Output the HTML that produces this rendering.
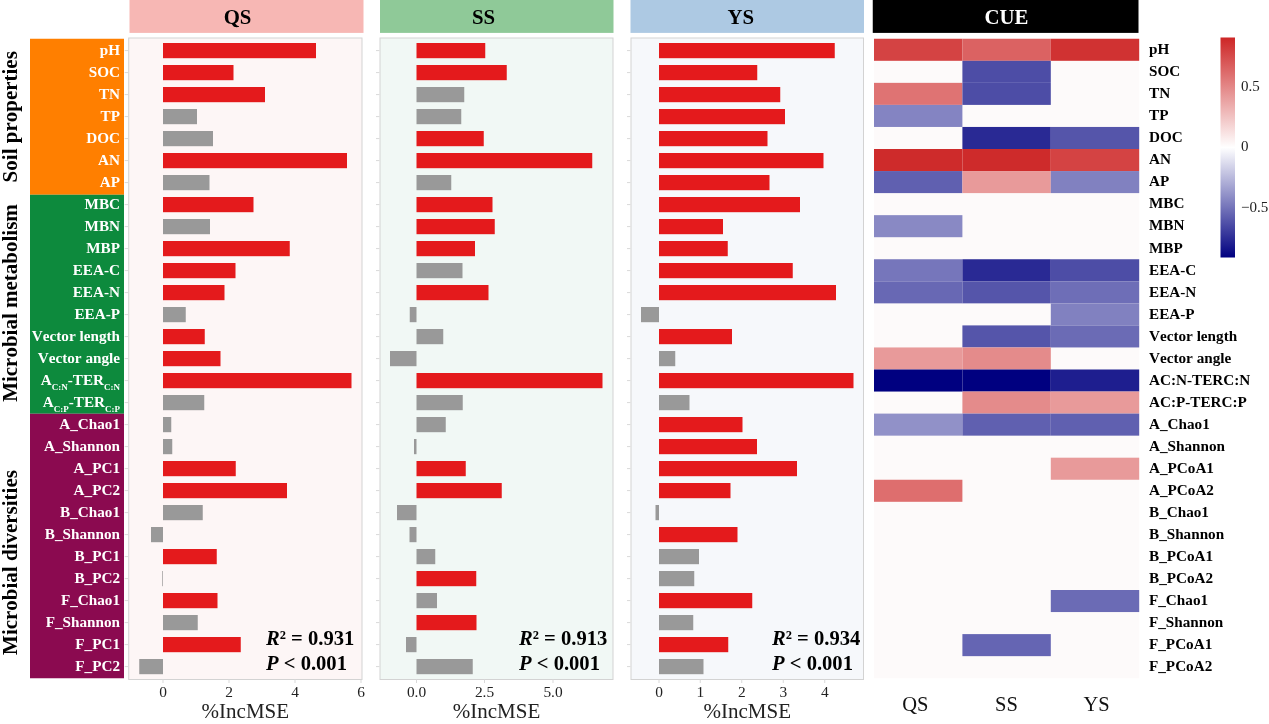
<!DOCTYPE html>
<html lang="en"><head><meta charset="utf-8"><title>Figure</title>
<style>html,body{margin:0;padding:0;background:#fff}svg{display:block}</style></head>
<body>
<svg width="1269" height="724" viewBox="0 0 1269 724" font-family='"Liberation Serif",serif' style="font-kerning:none">
<rect width="1269" height="724" fill="#fff"/>
<rect x="129.5" y="0" width="234" height="32.9" fill="#f7b7b4"/>
<text x="237.5" y="24.2" font-size="20.8" font-weight="bold" text-anchor="middle" fill="#000">QS</text>
<rect x="380" y="0" width="233.5" height="32.9" fill="#8fc998"/>
<text x="483.5" y="24.2" font-size="20.8" font-weight="bold" text-anchor="middle" fill="#000">SS</text>
<rect x="630.5" y="0" width="233.5" height="32.9" fill="#adc9e3"/>
<text x="740.75" y="24.2" font-size="20.8" font-weight="bold" text-anchor="middle" fill="#000">YS</text>
<rect x="872.75" y="0" width="265.75" height="32.9" fill="#000"/>
<text x="1006.5" y="24.2" font-size="20.8" font-weight="bold" text-anchor="middle" fill="#fff">CUE</text>
<rect x="30" y="38.75" width="94" height="156" fill="#ff7f00"/>
<rect x="30" y="194.75" width="94" height="219" fill="#0d8a3d"/>
<rect x="30" y="413.75" width="94" height="264.5" fill="#8b0a50"/>
<text transform="translate(17,116.75) rotate(-90)" font-size="21" font-weight="bold" text-anchor="middle">Soil properties</text>
<text transform="translate(17,303) rotate(-90)" font-size="21" font-weight="bold" text-anchor="middle">Microbial metabolism</text>
<text transform="translate(17,562.5) rotate(-90)" font-size="21" font-weight="bold" text-anchor="middle">Microbial diversities</text>
<text x="120" y="55.4" font-size="15.2" font-weight="bold" text-anchor="end" fill="#fff" style="font-kerning:none">pH</text>
<text x="120" y="77.4" font-size="15.2" font-weight="bold" text-anchor="end" fill="#fff" style="font-kerning:none">SOC</text>
<text x="120" y="99.4" font-size="15.2" font-weight="bold" text-anchor="end" fill="#fff" style="font-kerning:none">TN</text>
<text x="120" y="121.4" font-size="15.2" font-weight="bold" text-anchor="end" fill="#fff" style="font-kerning:none">TP</text>
<text x="120" y="143.4" font-size="15.2" font-weight="bold" text-anchor="end" fill="#fff" style="font-kerning:none">DOC</text>
<text x="120" y="165.4" font-size="15.2" font-weight="bold" text-anchor="end" fill="#fff" style="font-kerning:none">AN</text>
<text x="120" y="187.4" font-size="15.2" font-weight="bold" text-anchor="end" fill="#fff" style="font-kerning:none">AP</text>
<text x="120" y="209.4" font-size="15.2" font-weight="bold" text-anchor="end" fill="#fff" style="font-kerning:none">MBC</text>
<text x="120" y="231.4" font-size="15.2" font-weight="bold" text-anchor="end" fill="#fff" style="font-kerning:none">MBN</text>
<text x="120" y="253.4" font-size="15.2" font-weight="bold" text-anchor="end" fill="#fff" style="font-kerning:none">MBP</text>
<text x="120" y="275.4" font-size="15.2" font-weight="bold" text-anchor="end" fill="#fff" style="font-kerning:none">EEA-C</text>
<text x="120" y="297.4" font-size="15.2" font-weight="bold" text-anchor="end" fill="#fff" style="font-kerning:none">EEA-N</text>
<text x="120" y="319.4" font-size="15.2" font-weight="bold" text-anchor="end" fill="#fff" style="font-kerning:none">EEA-P</text>
<text x="120" y="341.4" font-size="15.2" font-weight="bold" text-anchor="end" fill="#fff" style="font-kerning:none">Vector length</text>
<text x="120" y="363.4" font-size="15.2" font-weight="bold" text-anchor="end" fill="#fff" style="font-kerning:none">Vector angle</text>
<text x="120" y="385.4" font-size="15.2" font-weight="bold" text-anchor="end" fill="#fff" style="font-kerning:none">A<tspan font-size="9" dy="4.5">C:N</tspan><tspan dy="-4.5">-TER</tspan><tspan font-size="9" dy="4.5">C:N</tspan></text>
<text x="120" y="407.4" font-size="15.2" font-weight="bold" text-anchor="end" fill="#fff" style="font-kerning:none">A<tspan font-size="9" dy="4.5">C:P</tspan><tspan dy="-4.5">-TER</tspan><tspan font-size="9" dy="4.5">C:P</tspan></text>
<text x="120" y="429.4" font-size="15.2" font-weight="bold" text-anchor="end" fill="#fff" style="font-kerning:none">A_Chao1</text>
<text x="120" y="451.4" font-size="15.2" font-weight="bold" text-anchor="end" fill="#fff" style="font-kerning:none">A_Shannon</text>
<text x="120" y="473.4" font-size="15.2" font-weight="bold" text-anchor="end" fill="#fff" style="font-kerning:none">A_PC1</text>
<text x="120" y="495.4" font-size="15.2" font-weight="bold" text-anchor="end" fill="#fff" style="font-kerning:none">A_PC2</text>
<text x="120" y="517.4" font-size="15.2" font-weight="bold" text-anchor="end" fill="#fff" style="font-kerning:none">B_Chao1</text>
<text x="120" y="539.4" font-size="15.2" font-weight="bold" text-anchor="end" fill="#fff" style="font-kerning:none">B_Shannon</text>
<text x="120" y="561.4" font-size="15.2" font-weight="bold" text-anchor="end" fill="#fff" style="font-kerning:none">B_PC1</text>
<text x="120" y="583.4" font-size="15.2" font-weight="bold" text-anchor="end" fill="#fff" style="font-kerning:none">B_PC2</text>
<text x="120" y="605.4" font-size="15.2" font-weight="bold" text-anchor="end" fill="#fff" style="font-kerning:none">F_Chao1</text>
<text x="120" y="627.4" font-size="15.2" font-weight="bold" text-anchor="end" fill="#fff" style="font-kerning:none">F_Shannon</text>
<text x="120" y="649.4" font-size="15.2" font-weight="bold" text-anchor="end" fill="#fff" style="font-kerning:none">F_PC1</text>
<text x="120" y="671.4" font-size="15.2" font-weight="bold" text-anchor="end" fill="#fff" style="font-kerning:none">F_PC2</text>
<rect x="128.7" y="38" width="233.3" height="641.5" fill="#fdf6f6" stroke="#d3d3d3" stroke-width="1"/>
<line x1="124.7" x2="128.2" y1="50.6" y2="50.6" stroke="#d9d9d9" stroke-width="1"/>
<line x1="124.7" x2="128.2" y1="72.6" y2="72.6" stroke="#d9d9d9" stroke-width="1"/>
<line x1="124.7" x2="128.2" y1="94.6" y2="94.6" stroke="#d9d9d9" stroke-width="1"/>
<line x1="124.7" x2="128.2" y1="116.6" y2="116.6" stroke="#d9d9d9" stroke-width="1"/>
<line x1="124.7" x2="128.2" y1="138.6" y2="138.6" stroke="#d9d9d9" stroke-width="1"/>
<line x1="124.7" x2="128.2" y1="160.6" y2="160.6" stroke="#d9d9d9" stroke-width="1"/>
<line x1="124.7" x2="128.2" y1="182.6" y2="182.6" stroke="#d9d9d9" stroke-width="1"/>
<line x1="124.7" x2="128.2" y1="204.6" y2="204.6" stroke="#d9d9d9" stroke-width="1"/>
<line x1="124.7" x2="128.2" y1="226.6" y2="226.6" stroke="#d9d9d9" stroke-width="1"/>
<line x1="124.7" x2="128.2" y1="248.6" y2="248.6" stroke="#d9d9d9" stroke-width="1"/>
<line x1="124.7" x2="128.2" y1="270.6" y2="270.6" stroke="#d9d9d9" stroke-width="1"/>
<line x1="124.7" x2="128.2" y1="292.6" y2="292.6" stroke="#d9d9d9" stroke-width="1"/>
<line x1="124.7" x2="128.2" y1="314.6" y2="314.6" stroke="#d9d9d9" stroke-width="1"/>
<line x1="124.7" x2="128.2" y1="336.6" y2="336.6" stroke="#d9d9d9" stroke-width="1"/>
<line x1="124.7" x2="128.2" y1="358.6" y2="358.6" stroke="#d9d9d9" stroke-width="1"/>
<line x1="124.7" x2="128.2" y1="380.6" y2="380.6" stroke="#d9d9d9" stroke-width="1"/>
<line x1="124.7" x2="128.2" y1="402.6" y2="402.6" stroke="#d9d9d9" stroke-width="1"/>
<line x1="124.7" x2="128.2" y1="424.6" y2="424.6" stroke="#d9d9d9" stroke-width="1"/>
<line x1="124.7" x2="128.2" y1="446.6" y2="446.6" stroke="#d9d9d9" stroke-width="1"/>
<line x1="124.7" x2="128.2" y1="468.6" y2="468.6" stroke="#d9d9d9" stroke-width="1"/>
<line x1="124.7" x2="128.2" y1="490.6" y2="490.6" stroke="#d9d9d9" stroke-width="1"/>
<line x1="124.7" x2="128.2" y1="512.6" y2="512.6" stroke="#d9d9d9" stroke-width="1"/>
<line x1="124.7" x2="128.2" y1="534.6" y2="534.6" stroke="#d9d9d9" stroke-width="1"/>
<line x1="124.7" x2="128.2" y1="556.6" y2="556.6" stroke="#d9d9d9" stroke-width="1"/>
<line x1="124.7" x2="128.2" y1="578.6" y2="578.6" stroke="#d9d9d9" stroke-width="1"/>
<line x1="124.7" x2="128.2" y1="600.6" y2="600.6" stroke="#d9d9d9" stroke-width="1"/>
<line x1="124.7" x2="128.2" y1="622.6" y2="622.6" stroke="#d9d9d9" stroke-width="1"/>
<line x1="124.7" x2="128.2" y1="644.6" y2="644.6" stroke="#d9d9d9" stroke-width="1"/>
<line x1="124.7" x2="128.2" y1="666.6" y2="666.6" stroke="#d9d9d9" stroke-width="1"/>
<rect x="163" y="43" width="153" height="15.2" fill="#e41a1c"/>
<rect x="163" y="65" width="70.5" height="15.2" fill="#e41a1c"/>
<rect x="163" y="87" width="102" height="15.2" fill="#e41a1c"/>
<rect x="163" y="109" width="34" height="15.2" fill="#999999"/>
<rect x="163" y="131" width="50" height="15.2" fill="#999999"/>
<rect x="163" y="153" width="184" height="15.2" fill="#e41a1c"/>
<rect x="163" y="175" width="46.5" height="15.2" fill="#999999"/>
<rect x="163" y="197" width="90.5" height="15.2" fill="#e41a1c"/>
<rect x="163" y="219" width="47" height="15.2" fill="#999999"/>
<rect x="163" y="241" width="126.75" height="15.2" fill="#e41a1c"/>
<rect x="163" y="263" width="72.5" height="15.2" fill="#e41a1c"/>
<rect x="163" y="285" width="61.5" height="15.2" fill="#e41a1c"/>
<rect x="163" y="307" width="22.75" height="15.2" fill="#999999"/>
<rect x="163" y="329" width="41.75" height="15.2" fill="#e41a1c"/>
<rect x="163" y="351" width="57.5" height="15.2" fill="#e41a1c"/>
<rect x="163" y="373" width="188.5" height="15.2" fill="#e41a1c"/>
<rect x="163" y="395" width="41.25" height="15.2" fill="#999999"/>
<rect x="163" y="417" width="8.25" height="15.2" fill="#999999"/>
<rect x="163" y="439" width="9.25" height="15.2" fill="#999999"/>
<rect x="163" y="461" width="72.75" height="15.2" fill="#e41a1c"/>
<rect x="163" y="483" width="124" height="15.2" fill="#e41a1c"/>
<rect x="163" y="505" width="39.75" height="15.2" fill="#999999"/>
<rect x="151" y="527" width="12" height="15.2" fill="#999999"/>
<rect x="163" y="549" width="53.75" height="15.2" fill="#e41a1c"/>
<rect x="162.3" y="571" width="0.7" height="15.2" fill="#999999"/>
<rect x="163" y="593" width="54.5" height="15.2" fill="#e41a1c"/>
<rect x="163" y="615" width="34.75" height="15.2" fill="#999999"/>
<rect x="163" y="637" width="77.75" height="15.2" fill="#e41a1c"/>
<rect x="139.25" y="659" width="23.75" height="15.2" fill="#999999"/>
<line x1="163" x2="163" y1="679.5" y2="683" stroke="#d9d9d9" stroke-width="1"/>
<text x="163" y="696.6" font-size="15.4" text-anchor="middle" fill="#222">0</text>
<line x1="229" x2="229" y1="679.5" y2="683" stroke="#d9d9d9" stroke-width="1"/>
<text x="229" y="696.6" font-size="15.4" text-anchor="middle" fill="#222">2</text>
<line x1="295" x2="295" y1="679.5" y2="683" stroke="#d9d9d9" stroke-width="1"/>
<text x="295" y="696.6" font-size="15.4" text-anchor="middle" fill="#222">4</text>
<line x1="361" x2="361" y1="679.5" y2="683" stroke="#d9d9d9" stroke-width="1"/>
<text x="361" y="696.6" font-size="15.4" text-anchor="middle" fill="#222">6</text>
<text x="245.35" y="718" font-size="21" text-anchor="middle" fill="#222">%IncMSE</text>
<text x="266" y="644.5" font-size="20.6" font-weight="bold" fill="#000"><tspan font-style="italic">R</tspan>² = 0.931</text>
<text x="266" y="670" font-size="20.6" font-weight="bold" fill="#000"><tspan font-style="italic">P</tspan> &lt; 0.001</text>
<rect x="380" y="38" width="233" height="641.5" fill="#f1f8f5" stroke="#d3d3d3" stroke-width="1"/>
<line x1="376" x2="379.5" y1="50.6" y2="50.6" stroke="#d9d9d9" stroke-width="1"/>
<line x1="376" x2="379.5" y1="72.6" y2="72.6" stroke="#d9d9d9" stroke-width="1"/>
<line x1="376" x2="379.5" y1="94.6" y2="94.6" stroke="#d9d9d9" stroke-width="1"/>
<line x1="376" x2="379.5" y1="116.6" y2="116.6" stroke="#d9d9d9" stroke-width="1"/>
<line x1="376" x2="379.5" y1="138.6" y2="138.6" stroke="#d9d9d9" stroke-width="1"/>
<line x1="376" x2="379.5" y1="160.6" y2="160.6" stroke="#d9d9d9" stroke-width="1"/>
<line x1="376" x2="379.5" y1="182.6" y2="182.6" stroke="#d9d9d9" stroke-width="1"/>
<line x1="376" x2="379.5" y1="204.6" y2="204.6" stroke="#d9d9d9" stroke-width="1"/>
<line x1="376" x2="379.5" y1="226.6" y2="226.6" stroke="#d9d9d9" stroke-width="1"/>
<line x1="376" x2="379.5" y1="248.6" y2="248.6" stroke="#d9d9d9" stroke-width="1"/>
<line x1="376" x2="379.5" y1="270.6" y2="270.6" stroke="#d9d9d9" stroke-width="1"/>
<line x1="376" x2="379.5" y1="292.6" y2="292.6" stroke="#d9d9d9" stroke-width="1"/>
<line x1="376" x2="379.5" y1="314.6" y2="314.6" stroke="#d9d9d9" stroke-width="1"/>
<line x1="376" x2="379.5" y1="336.6" y2="336.6" stroke="#d9d9d9" stroke-width="1"/>
<line x1="376" x2="379.5" y1="358.6" y2="358.6" stroke="#d9d9d9" stroke-width="1"/>
<line x1="376" x2="379.5" y1="380.6" y2="380.6" stroke="#d9d9d9" stroke-width="1"/>
<line x1="376" x2="379.5" y1="402.6" y2="402.6" stroke="#d9d9d9" stroke-width="1"/>
<line x1="376" x2="379.5" y1="424.6" y2="424.6" stroke="#d9d9d9" stroke-width="1"/>
<line x1="376" x2="379.5" y1="446.6" y2="446.6" stroke="#d9d9d9" stroke-width="1"/>
<line x1="376" x2="379.5" y1="468.6" y2="468.6" stroke="#d9d9d9" stroke-width="1"/>
<line x1="376" x2="379.5" y1="490.6" y2="490.6" stroke="#d9d9d9" stroke-width="1"/>
<line x1="376" x2="379.5" y1="512.6" y2="512.6" stroke="#d9d9d9" stroke-width="1"/>
<line x1="376" x2="379.5" y1="534.6" y2="534.6" stroke="#d9d9d9" stroke-width="1"/>
<line x1="376" x2="379.5" y1="556.6" y2="556.6" stroke="#d9d9d9" stroke-width="1"/>
<line x1="376" x2="379.5" y1="578.6" y2="578.6" stroke="#d9d9d9" stroke-width="1"/>
<line x1="376" x2="379.5" y1="600.6" y2="600.6" stroke="#d9d9d9" stroke-width="1"/>
<line x1="376" x2="379.5" y1="622.6" y2="622.6" stroke="#d9d9d9" stroke-width="1"/>
<line x1="376" x2="379.5" y1="644.6" y2="644.6" stroke="#d9d9d9" stroke-width="1"/>
<line x1="376" x2="379.5" y1="666.6" y2="666.6" stroke="#d9d9d9" stroke-width="1"/>
<rect x="416.5" y="43" width="68.75" height="15.2" fill="#e41a1c"/>
<rect x="416.5" y="65" width="90.25" height="15.2" fill="#e41a1c"/>
<rect x="416.5" y="87" width="47.75" height="15.2" fill="#999999"/>
<rect x="416.5" y="109" width="44.75" height="15.2" fill="#999999"/>
<rect x="416.5" y="131" width="67.25" height="15.2" fill="#e41a1c"/>
<rect x="416.5" y="153" width="175.75" height="15.2" fill="#e41a1c"/>
<rect x="416.5" y="175" width="34.75" height="15.2" fill="#999999"/>
<rect x="416.5" y="197" width="76" height="15.2" fill="#e41a1c"/>
<rect x="416.5" y="219" width="78.25" height="15.2" fill="#e41a1c"/>
<rect x="416.5" y="241" width="58.5" height="15.2" fill="#e41a1c"/>
<rect x="416.5" y="263" width="46" height="15.2" fill="#999999"/>
<rect x="416.5" y="285" width="72" height="15.2" fill="#e41a1c"/>
<rect x="409.75" y="307" width="6.75" height="15.2" fill="#999999"/>
<rect x="416.5" y="329" width="26.75" height="15.2" fill="#999999"/>
<rect x="390" y="351" width="26.5" height="15.2" fill="#999999"/>
<rect x="416.5" y="373" width="186" height="15.2" fill="#e41a1c"/>
<rect x="416.5" y="395" width="46.25" height="15.2" fill="#999999"/>
<rect x="416.5" y="417" width="29.25" height="15.2" fill="#999999"/>
<rect x="414" y="439" width="2.5" height="15.2" fill="#999999"/>
<rect x="416.5" y="461" width="49.25" height="15.2" fill="#e41a1c"/>
<rect x="416.5" y="483" width="85.25" height="15.2" fill="#e41a1c"/>
<rect x="397" y="505" width="19.5" height="15.2" fill="#999999"/>
<rect x="409.5" y="527" width="7" height="15.2" fill="#999999"/>
<rect x="416.5" y="549" width="18.75" height="15.2" fill="#999999"/>
<rect x="416.5" y="571" width="59.75" height="15.2" fill="#e41a1c"/>
<rect x="416.5" y="593" width="20.5" height="15.2" fill="#999999"/>
<rect x="416.5" y="615" width="60" height="15.2" fill="#e41a1c"/>
<rect x="406" y="637" width="10.5" height="15.2" fill="#999999"/>
<rect x="416.5" y="659" width="56.25" height="15.2" fill="#999999"/>
<line x1="416.5" x2="416.5" y1="679.5" y2="683" stroke="#d9d9d9" stroke-width="1"/>
<text x="416.5" y="696.6" font-size="15.4" text-anchor="middle" fill="#222">0.0</text>
<line x1="484.5" x2="484.5" y1="679.5" y2="683" stroke="#d9d9d9" stroke-width="1"/>
<text x="484.5" y="696.6" font-size="15.4" text-anchor="middle" fill="#222">2.5</text>
<line x1="553" x2="553" y1="679.5" y2="683" stroke="#d9d9d9" stroke-width="1"/>
<text x="553" y="696.6" font-size="15.4" text-anchor="middle" fill="#222">5.0</text>
<text x="496.5" y="718" font-size="21" text-anchor="middle" fill="#222">%IncMSE</text>
<text x="519" y="644.5" font-size="20.6" font-weight="bold" fill="#000"><tspan font-style="italic">R</tspan>² = 0.913</text>
<text x="519" y="670" font-size="20.6" font-weight="bold" fill="#000"><tspan font-style="italic">P</tspan> &lt; 0.001</text>
<rect x="631" y="38" width="232.5" height="641.5" fill="#f6f8fb" stroke="#d3d3d3" stroke-width="1"/>
<line x1="627" x2="630.5" y1="50.6" y2="50.6" stroke="#d9d9d9" stroke-width="1"/>
<line x1="627" x2="630.5" y1="72.6" y2="72.6" stroke="#d9d9d9" stroke-width="1"/>
<line x1="627" x2="630.5" y1="94.6" y2="94.6" stroke="#d9d9d9" stroke-width="1"/>
<line x1="627" x2="630.5" y1="116.6" y2="116.6" stroke="#d9d9d9" stroke-width="1"/>
<line x1="627" x2="630.5" y1="138.6" y2="138.6" stroke="#d9d9d9" stroke-width="1"/>
<line x1="627" x2="630.5" y1="160.6" y2="160.6" stroke="#d9d9d9" stroke-width="1"/>
<line x1="627" x2="630.5" y1="182.6" y2="182.6" stroke="#d9d9d9" stroke-width="1"/>
<line x1="627" x2="630.5" y1="204.6" y2="204.6" stroke="#d9d9d9" stroke-width="1"/>
<line x1="627" x2="630.5" y1="226.6" y2="226.6" stroke="#d9d9d9" stroke-width="1"/>
<line x1="627" x2="630.5" y1="248.6" y2="248.6" stroke="#d9d9d9" stroke-width="1"/>
<line x1="627" x2="630.5" y1="270.6" y2="270.6" stroke="#d9d9d9" stroke-width="1"/>
<line x1="627" x2="630.5" y1="292.6" y2="292.6" stroke="#d9d9d9" stroke-width="1"/>
<line x1="627" x2="630.5" y1="314.6" y2="314.6" stroke="#d9d9d9" stroke-width="1"/>
<line x1="627" x2="630.5" y1="336.6" y2="336.6" stroke="#d9d9d9" stroke-width="1"/>
<line x1="627" x2="630.5" y1="358.6" y2="358.6" stroke="#d9d9d9" stroke-width="1"/>
<line x1="627" x2="630.5" y1="380.6" y2="380.6" stroke="#d9d9d9" stroke-width="1"/>
<line x1="627" x2="630.5" y1="402.6" y2="402.6" stroke="#d9d9d9" stroke-width="1"/>
<line x1="627" x2="630.5" y1="424.6" y2="424.6" stroke="#d9d9d9" stroke-width="1"/>
<line x1="627" x2="630.5" y1="446.6" y2="446.6" stroke="#d9d9d9" stroke-width="1"/>
<line x1="627" x2="630.5" y1="468.6" y2="468.6" stroke="#d9d9d9" stroke-width="1"/>
<line x1="627" x2="630.5" y1="490.6" y2="490.6" stroke="#d9d9d9" stroke-width="1"/>
<line x1="627" x2="630.5" y1="512.6" y2="512.6" stroke="#d9d9d9" stroke-width="1"/>
<line x1="627" x2="630.5" y1="534.6" y2="534.6" stroke="#d9d9d9" stroke-width="1"/>
<line x1="627" x2="630.5" y1="556.6" y2="556.6" stroke="#d9d9d9" stroke-width="1"/>
<line x1="627" x2="630.5" y1="578.6" y2="578.6" stroke="#d9d9d9" stroke-width="1"/>
<line x1="627" x2="630.5" y1="600.6" y2="600.6" stroke="#d9d9d9" stroke-width="1"/>
<line x1="627" x2="630.5" y1="622.6" y2="622.6" stroke="#d9d9d9" stroke-width="1"/>
<line x1="627" x2="630.5" y1="644.6" y2="644.6" stroke="#d9d9d9" stroke-width="1"/>
<line x1="627" x2="630.5" y1="666.6" y2="666.6" stroke="#d9d9d9" stroke-width="1"/>
<rect x="659" y="43" width="175.75" height="15.2" fill="#e41a1c"/>
<rect x="659" y="65" width="98.25" height="15.2" fill="#e41a1c"/>
<rect x="659" y="87" width="121.25" height="15.2" fill="#e41a1c"/>
<rect x="659" y="109" width="126" height="15.2" fill="#e41a1c"/>
<rect x="659" y="131" width="108.5" height="15.2" fill="#e41a1c"/>
<rect x="659" y="153" width="164.5" height="15.2" fill="#e41a1c"/>
<rect x="659" y="175" width="110.5" height="15.2" fill="#e41a1c"/>
<rect x="659" y="197" width="141" height="15.2" fill="#e41a1c"/>
<rect x="659" y="219" width="64" height="15.2" fill="#e41a1c"/>
<rect x="659" y="241" width="68.75" height="15.2" fill="#e41a1c"/>
<rect x="659" y="263" width="133.75" height="15.2" fill="#e41a1c"/>
<rect x="659" y="285" width="177" height="15.2" fill="#e41a1c"/>
<rect x="641" y="307" width="18" height="15.2" fill="#999999"/>
<rect x="659" y="329" width="73" height="15.2" fill="#e41a1c"/>
<rect x="659" y="351" width="16.25" height="15.2" fill="#999999"/>
<rect x="659" y="373" width="194.5" height="15.2" fill="#e41a1c"/>
<rect x="659" y="395" width="30.5" height="15.2" fill="#999999"/>
<rect x="659" y="417" width="83.5" height="15.2" fill="#e41a1c"/>
<rect x="659" y="439" width="98" height="15.2" fill="#e41a1c"/>
<rect x="659" y="461" width="138" height="15.2" fill="#e41a1c"/>
<rect x="659" y="483" width="71.5" height="15.2" fill="#e41a1c"/>
<rect x="655.5" y="505" width="3.5" height="15.2" fill="#999999"/>
<rect x="659" y="527" width="78.5" height="15.2" fill="#e41a1c"/>
<rect x="659" y="549" width="40" height="15.2" fill="#999999"/>
<rect x="659" y="571" width="35.25" height="15.2" fill="#999999"/>
<rect x="659" y="593" width="93.25" height="15.2" fill="#e41a1c"/>
<rect x="659" y="615" width="34.25" height="15.2" fill="#999999"/>
<rect x="659" y="637" width="69.25" height="15.2" fill="#e41a1c"/>
<rect x="659" y="659" width="44.5" height="15.2" fill="#999999"/>
<line x1="659" x2="659" y1="679.5" y2="683" stroke="#d9d9d9" stroke-width="1"/>
<text x="659" y="696.6" font-size="15.4" text-anchor="middle" fill="#222">0</text>
<line x1="700.25" x2="700.25" y1="679.5" y2="683" stroke="#d9d9d9" stroke-width="1"/>
<text x="700.25" y="696.6" font-size="15.4" text-anchor="middle" fill="#222">1</text>
<line x1="741.75" x2="741.75" y1="679.5" y2="683" stroke="#d9d9d9" stroke-width="1"/>
<text x="741.75" y="696.6" font-size="15.4" text-anchor="middle" fill="#222">2</text>
<line x1="783.25" x2="783.25" y1="679.5" y2="683" stroke="#d9d9d9" stroke-width="1"/>
<text x="783.25" y="696.6" font-size="15.4" text-anchor="middle" fill="#222">3</text>
<line x1="824.75" x2="824.75" y1="679.5" y2="683" stroke="#d9d9d9" stroke-width="1"/>
<text x="824.75" y="696.6" font-size="15.4" text-anchor="middle" fill="#222">4</text>
<text x="747.25" y="718" font-size="21" text-anchor="middle" fill="#222">%IncMSE</text>
<text x="772" y="644.5" font-size="20.6" font-weight="bold" fill="#000"><tspan font-style="italic">R</tspan>² = 0.934</text>
<text x="772" y="670" font-size="20.6" font-weight="bold" fill="#000"><tspan font-style="italic">P</tspan> &lt; 0.001</text>
<rect x="874" y="38.75" width="265.2" height="639.5" fill="#fdfafa"/>
<rect x="874" y="38.75" width="88.4" height="22.05" fill="#d44343"/>
<rect x="962.4" y="38.75" width="88.4" height="22.05" fill="#db6262"/>
<rect x="1050.8" y="38.75" width="88.4" height="22.05" fill="#d03232"/>
<rect x="962.4" y="60.8" width="88.4" height="22.05" fill="#4d4da6"/>
<rect x="874" y="82.85" width="88.4" height="22.05" fill="#df7373"/>
<rect x="962.4" y="82.85" width="88.4" height="22.05" fill="#4d4da6"/>
<rect x="874" y="104.9" width="88.4" height="22.05" fill="#8484c2"/>
<rect x="962.4" y="126.95" width="88.4" height="22.05" fill="#292994"/>
<rect x="1050.8" y="126.95" width="88.4" height="22.05" fill="#5555aa"/>
<rect x="874" y="149" width="88.4" height="22.05" fill="#ce2b2b"/>
<rect x="962.4" y="149" width="88.4" height="22.05" fill="#ce2b2b"/>
<rect x="1050.8" y="149" width="88.4" height="22.05" fill="#d44343"/>
<rect x="874" y="171.05" width="88.4" height="22.05" fill="#6060b0"/>
<rect x="962.4" y="171.05" width="88.4" height="22.05" fill="#e89a9a"/>
<rect x="1050.8" y="171.05" width="88.4" height="22.05" fill="#8181c0"/>
<rect x="874" y="215.15" width="88.4" height="22.05" fill="#8989c4"/>
<rect x="874" y="259.25" width="88.4" height="22.05" fill="#7676bb"/>
<rect x="962.4" y="259.25" width="88.4" height="22.05" fill="#292994"/>
<rect x="1050.8" y="259.25" width="88.4" height="22.05" fill="#4d4da6"/>
<rect x="874" y="281.3" width="88.4" height="22.05" fill="#6868b4"/>
<rect x="962.4" y="281.3" width="88.4" height="22.05" fill="#5555aa"/>
<rect x="1050.8" y="281.3" width="88.4" height="22.05" fill="#6e6eb7"/>
<rect x="1050.8" y="303.35" width="88.4" height="22.05" fill="#8181c0"/>
<rect x="962.4" y="325.4" width="88.4" height="22.05" fill="#5555aa"/>
<rect x="1050.8" y="325.4" width="88.4" height="22.05" fill="#6b6bb5"/>
<rect x="874" y="347.45" width="88.4" height="22.05" fill="#e89a9a"/>
<rect x="962.4" y="347.45" width="88.4" height="22.05" fill="#e48b8b"/>
<rect x="874" y="369.5" width="88.4" height="22.05" fill="#000080"/>
<rect x="962.4" y="369.5" width="88.4" height="22.05" fill="#000080"/>
<rect x="1050.8" y="369.5" width="88.4" height="22.05" fill="#1e1e8f"/>
<rect x="962.4" y="391.55" width="88.4" height="22.05" fill="#e48b8b"/>
<rect x="1050.8" y="391.55" width="88.4" height="22.05" fill="#e89a9a"/>
<rect x="874" y="413.6" width="88.4" height="22.05" fill="#9191c8"/>
<rect x="962.4" y="413.6" width="88.4" height="22.05" fill="#6060b0"/>
<rect x="1050.8" y="413.6" width="88.4" height="22.05" fill="#6060b0"/>
<rect x="1050.8" y="457.7" width="88.4" height="22.05" fill="#e89a9a"/>
<rect x="874" y="479.75" width="88.4" height="22.05" fill="#de6e6e"/>
<rect x="1050.8" y="590" width="88.4" height="22.05" fill="#6b6bb5"/>
<rect x="962.4" y="634.1" width="88.4" height="22.05" fill="#6565b3"/>
<text x="1149" y="54.075" font-size="15.2" font-weight="bold" fill="#000" style="font-kerning:none">pH</text>
<text x="1149" y="76.125" font-size="15.2" font-weight="bold" fill="#000" style="font-kerning:none">SOC</text>
<text x="1149" y="98.175" font-size="15.2" font-weight="bold" fill="#000" style="font-kerning:none">TN</text>
<text x="1149" y="120.225" font-size="15.2" font-weight="bold" fill="#000" style="font-kerning:none">TP</text>
<text x="1149" y="142.275" font-size="15.2" font-weight="bold" fill="#000" style="font-kerning:none">DOC</text>
<text x="1149" y="164.325" font-size="15.2" font-weight="bold" fill="#000" style="font-kerning:none">AN</text>
<text x="1149" y="186.375" font-size="15.2" font-weight="bold" fill="#000" style="font-kerning:none">AP</text>
<text x="1149" y="208.425" font-size="15.2" font-weight="bold" fill="#000" style="font-kerning:none">MBC</text>
<text x="1149" y="230.475" font-size="15.2" font-weight="bold" fill="#000" style="font-kerning:none">MBN</text>
<text x="1149" y="252.525" font-size="15.2" font-weight="bold" fill="#000" style="font-kerning:none">MBP</text>
<text x="1149" y="274.575" font-size="15.2" font-weight="bold" fill="#000" style="font-kerning:none">EEA-C</text>
<text x="1149" y="296.625" font-size="15.2" font-weight="bold" fill="#000" style="font-kerning:none">EEA-N</text>
<text x="1149" y="318.675" font-size="15.2" font-weight="bold" fill="#000" style="font-kerning:none">EEA-P</text>
<text x="1149" y="340.725" font-size="15.2" font-weight="bold" fill="#000" style="font-kerning:none">Vector length</text>
<text x="1149" y="362.775" font-size="15.2" font-weight="bold" fill="#000" style="font-kerning:none">Vector angle</text>
<text x="1149" y="384.825" font-size="15.2" font-weight="bold" fill="#000" style="font-kerning:none">AC:N-TERC:N</text>
<text x="1149" y="406.875" font-size="15.2" font-weight="bold" fill="#000" style="font-kerning:none">AC:P-TERC:P</text>
<text x="1149" y="428.925" font-size="15.2" font-weight="bold" fill="#000" style="font-kerning:none">A_Chao1</text>
<text x="1149" y="450.975" font-size="15.2" font-weight="bold" fill="#000" style="font-kerning:none">A_Shannon</text>
<text x="1149" y="473.025" font-size="15.2" font-weight="bold" fill="#000" style="font-kerning:none">A_PCoA1</text>
<text x="1149" y="495.075" font-size="15.2" font-weight="bold" fill="#000" style="font-kerning:none">A_PCoA2</text>
<text x="1149" y="517.125" font-size="15.2" font-weight="bold" fill="#000" style="font-kerning:none">B_Chao1</text>
<text x="1149" y="539.175" font-size="15.2" font-weight="bold" fill="#000" style="font-kerning:none">B_Shannon</text>
<text x="1149" y="561.225" font-size="15.2" font-weight="bold" fill="#000" style="font-kerning:none">B_PCoA1</text>
<text x="1149" y="583.275" font-size="15.2" font-weight="bold" fill="#000" style="font-kerning:none">B_PCoA2</text>
<text x="1149" y="605.325" font-size="15.2" font-weight="bold" fill="#000" style="font-kerning:none">F_Chao1</text>
<text x="1149" y="627.375" font-size="15.2" font-weight="bold" fill="#000" style="font-kerning:none">F_Shannon</text>
<text x="1149" y="649.425" font-size="15.2" font-weight="bold" fill="#000" style="font-kerning:none">F_PCoA1</text>
<text x="1149" y="671.475" font-size="15.2" font-weight="bold" fill="#000" style="font-kerning:none">F_PCoA2</text>
<text x="915.25" y="710.9" font-size="20.5" text-anchor="middle" fill="#111">QS</text>
<text x="1006.5" y="710.9" font-size="20.5" text-anchor="middle" fill="#111">SS</text>
<text x="1096.5" y="710.9" font-size="20.5" text-anchor="middle" fill="#111">YS</text>
<defs><linearGradient id="cb" x1="0" y1="0" x2="0" y2="1"><stop offset="0" stop-color="#cd2626"/><stop offset="0.5" stop-color="#ffffff"/><stop offset="1" stop-color="#000080"/></linearGradient></defs>
<rect x="1220.5" y="37.5" width="14.5" height="220" fill="url(#cb)"/>
<text x="1241" y="90.75" font-size="15" fill="#222">0.5</text>
<text x="1241" y="150.75" font-size="15" fill="#222">0</text>
<text x="1241" y="211.5" font-size="15" fill="#222">−0.5</text>
</svg>
</body></html>
